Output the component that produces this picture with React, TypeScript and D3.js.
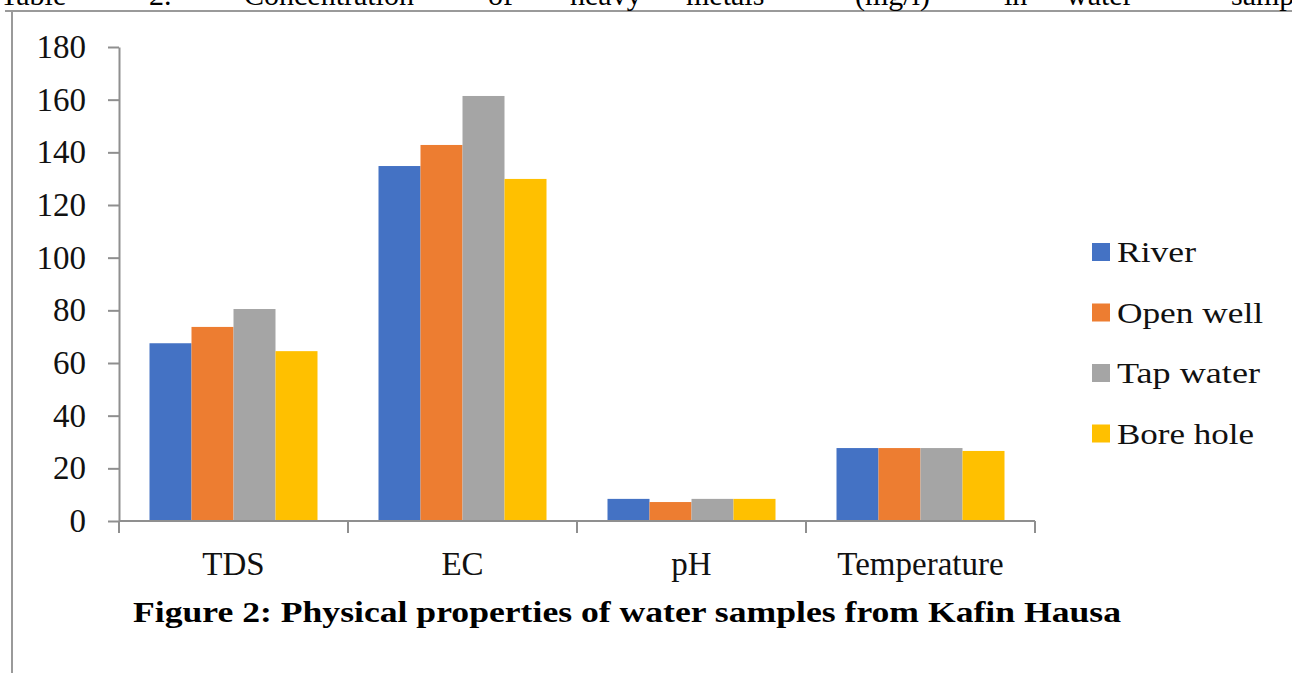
import { useEffect, useRef } from 'react'
import * as d3 from 'd3'

const categories = ['TDS', 'EC', 'pH', 'Temperature']
const seriesNames = ['River', 'Open well', 'Tap water', 'Bore hole']
const river = [67.5, 134.8, 8.4, 27.7]
const openWell = [73.7, 142.8, 7.2, 27.7]
const tapWater = [80.5, 161.4, 8.4, 27.7]
const boreHole = [64.5, 129.9, 8.4, 26.6]
const yTicks = [0, 20, 40, 60, 80, 100, 120, 140, 160, 180]
const colors = ['#4472C4', '#ED7D31', '#A5A5A5', '#FFC000']
const legendWidths = [79, 146, 143, 137]
const caption = 'Figure 2: Physical properties of water samples from Kafin Hausa'
const headerWords = ['Table', '2.', 'Concentration', 'of', 'heavy', 'metals', '(mg/l)', 'in', 'water', 'samp']
const headerX = [0, 149, 244, 488, 570, 686, 855, 1004, 1066, 1231]

const W = 1292
const H = 673
const FONT = '"Liberation Serif", "Times New Roman", serif'

export default function App() {
  const ref = useRef<SVGSVGElement | null>(null)

  useEffect(() => {
    if (!ref.current) {return}
    const svg = d3.select(ref.current)
    svg.selectAll('*').remove()

    const values = [river, openWell, tapWater, boreHole]
    const axisColor = '#8f8f8f'

    const x0 = d3.scaleBand().domain(categories).range([119, 1035]).padding(0)
    const x1 = d3
      .scaleBand()
      .domain(seriesNames)
      .range([30.5, x0.bandwidth() - 30.5])
      .padding(0)
    const y = d3.scaleLinear().domain([0, 180]).range([521, 47])

    // page frame
    svg.append('line').attr('x1', 5).attr('x2', W).attr('y1', 11).attr('y2', 11)
      .attr('stroke', '#9a9a9a').attr('stroke-width', 2)
    svg.append('line').attr('x1', 12).attr('x2', 12).attr('y1', 11).attr('y2', H)
      .attr('stroke', '#9a9a9a').attr('stroke-width', 2)

    // header line of the page above, cut by the top edge as in the scan
    svg.append('g')
      .selectAll('text')
      .data(headerWords)
      .join('text')
      .attr('x', (_, i) => headerX[i])
      .attr('y', 5)
      .attr('font-family', FONT)
      .attr('font-size', 30)
      .attr('fill', '#000')
      .text((d) => d)

    // bars
    const groups = svg.append('g')
      .selectAll('g')
      .data(categories)
      .join('g')
      .attr('transform', (d) => `translate(${x0(d)},0)`)

    groups
      .selectAll('rect')
      .data((_, ci) => seriesNames.map((s, si) => ({ s, si, v: values[si][ci] })))
      .join('rect')
      .attr('x', (d) => x1(d.s) ?? 0)
      .attr('width', x1.bandwidth())
      .attr('y', (d) => y(d.v))
      .attr('height', (d) => y(0) - y(d.v))
      .attr('fill', (d) => colors[d.si])

    // y axis
    const yAxis = svg.append('g').attr('transform', 'translate(119,0)')
      .call(d3.axisLeft(y).tickValues(yTicks).tickSize(11).tickPadding(22).tickSizeOuter(0))
    yAxis.select('.domain').attr('stroke', axisColor).attr('stroke-width', 2)
    yAxis.selectAll('.tick line').attr('stroke', axisColor).attr('stroke-width', 2)
    yAxis.selectAll('.tick text')
      .attr('font-family', FONT)
      .attr('font-size', 33)
      .attr('fill', '#111')

    // x axis with ticks at category boundaries
    const bounds = [...categories.map((c) => x0(c) ?? 0), x0.range()[1]]
    svg.append('line').attr('x1', 119).attr('x2', 1035).attr('y1', y(0)).attr('y2', y(0))
      .attr('stroke', axisColor).attr('stroke-width', 2)
    svg.append('g')
      .selectAll('line')
      .data(bounds)
      .join('line')
      .attr('x1', (d) => d).attr('x2', (d) => d)
      .attr('y1', y(0)).attr('y2', y(0) + 12)
      .attr('stroke', axisColor).attr('stroke-width', 2)

    svg.append('g')
      .selectAll('text')
      .data(categories)
      .join('text')
      .attr('x', (d) => (x0(d) ?? 0) + x0.bandwidth() / 2)
      .attr('y', 575)
      .attr('text-anchor', 'middle')
      .attr('font-family', FONT)
      .attr('font-size', 33)
      .attr('fill', '#111')
      .text((d) => d)

    // legend
    const legend = svg.append('g')
      .selectAll('g')
      .data(seriesNames)
      .join('g')
      .attr('transform', (_, i) => `translate(1092,${252 + i * 60.5})`)
    legend.append('rect')
      .attr('x', 0).attr('y', -9).attr('width', 18).attr('height', 18)
      .attr('fill', (_, i) => colors[i])
    legend.append('text')
      .attr('x', 25)
      .attr('y', 10)
      .attr('font-family', FONT)
      .attr('font-size', 29)
      .attr('fill', '#111')
      .attr('textLength', (_, i) => legendWidths[i])
      .attr('lengthAdjust', 'spacingAndGlyphs')
      .text((d) => d)

    // caption
    svg.append('text')
      .attr('x', 133)
      .attr('y', 622)
      .attr('font-family', FONT)
      .attr('font-weight', 'bold')
      .attr('font-size', 29)
      .attr('fill', '#000')
      .attr('textLength', 988)
      .attr('lengthAdjust', 'spacingAndGlyphs')
      .text(caption)
  }, [])

  return (
    <svg
      ref={ref}
      width={W}
      height={H}
      role="img"
      aria-label="Physical properties of water samples"
      style={{ position: 'absolute', left: 0, top: 0, background: '#fff', display: 'block' }}
    />
  )
}
